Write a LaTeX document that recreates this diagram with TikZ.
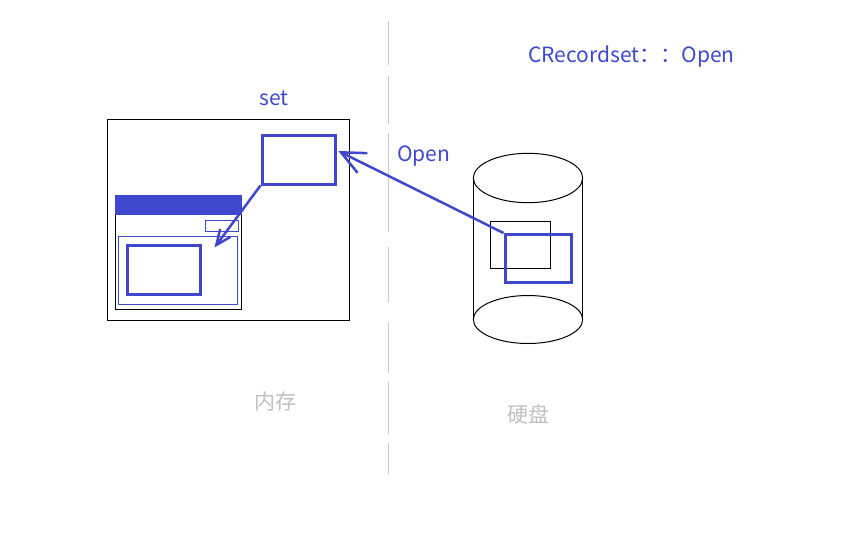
\documentclass[tikz,border=0pt]{standalone}
\usepackage{fontspec}
\setmainfont{Noto Sans CJK SC}
\usepackage{tikz}
\usetikzlibrary{arrows.meta}
\definecolor{penblue}{RGB}{63,72,204}
\definecolor{softgray}{RGB}{192,192,192}
\definecolor{rulegray}{RGB}{200,200,200}

\begin{document}
\begin{tikzpicture}[
    x=1pt, y=-1pt,
    box/.style={rectangle, draw, inner sep=0pt, line width=1pt},
    thickbox/.style={box, draw=penblue, line width=3pt},
    thinbox/.style={box, draw=penblue},
    caption/.style={inner sep=0pt, font=\fontsize{21}{25}\selectfont},
    link/.style={draw=penblue, line width=2.5pt}
]
\useasboundingbox (0,0) rectangle (864,557);

% memory side
\node[box, minimum width=242pt, minimum height=201pt] (mem) at (228,219.5) {};
\node[thickbox, minimum width=73pt, minimum height=49pt] (buf) at (298.5,159.5) {};
\node[box, minimum width=126pt, minimum height=114pt] (win) at (178.5,252.5) {};
\node[box, fill=penblue, draw=penblue, minimum width=126pt, minimum height=19pt] (bar) at (178.5,205) {};
\node[thinbox, minimum width=33pt, minimum height=11pt] (btn) at (222,226) {};
\node[thinbox, minimum width=119pt, minimum height=68pt] (pane) at (178,270.5) {};
\node[thickbox, minimum width=73pt, minimum height=49.5pt] (view) at (163.5,269.75) {};

% disk
\draw[line width=1pt] (528,178) ellipse [x radius=54.7, y radius=24.7];
\draw[line width=1pt] (528,319.5) ellipse [x radius=54.7, y radius=24];
\draw[line width=1pt] (473.3,178) -- (473.3,319.5);
\draw[line width=1pt] (582.7,178) -- (582.7,319.5);
\node[box, minimum width=60pt, minimum height=46.5pt] (rec) at (520.5,244.75) {};
\node[thickbox, minimum width=66.5pt, minimum height=48pt] (copy) at (538.25,258.5) {};

% divider
\foreach \a/\b in {20.7/65, 76/124.3, 132.7/232.3, 246.7/303.3, 322/372.7, 382.3/433.7, 443.3/474}
    \draw[rulegray, line width=1.5pt] (388.5,\a) -- (388.5,\b);

% texts
\node[caption, text=penblue] (setlbl) at (274,98.5) {set};
\node[caption, text=penblue, anchor=west] (openlbl) at (397,156.5) {Open};
\node[caption, text=penblue] (title) at (631.5,56.5) {CRecordset：：Open};
\node[caption, text=softgray] (memlbl) at (275.5,402) {内存};
\node[caption, text=softgray] (disklbl) at (528,414) {硬盘};

% arrows
\coordinate (tip) at (338.3,151);
\coordinate (drop) at (214.5,247.5);
\draw[link, -{Straight Barb[length=15pt, width=13pt]}] (buf.south west) -- (drop);
\draw[link, -{Straight Barb[length=24pt, width=22pt]}] (copy.north west) -- (tip);

\end{tikzpicture}
\end{document}
